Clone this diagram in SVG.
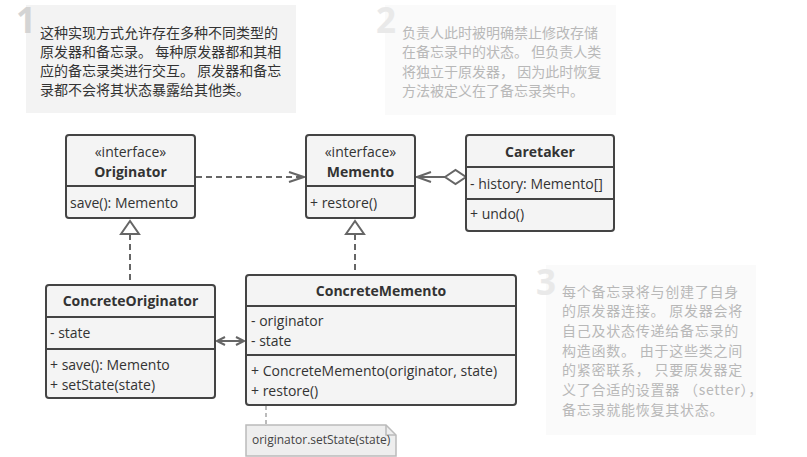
<svg xmlns="http://www.w3.org/2000/svg" width="807" height="457" viewBox="0 0 807 457">
<defs>
<style>
.bg{fill:#ffffff}
.note1{fill:#f3f3f3}
.note2{fill:#fafafa}
.num{font-family:"Open Sans","Liberation Sans",sans-serif;font-weight:bold;font-size:35px}
.n1{fill:#d4d4d4}
.n2{fill:#e9e9e9}
.cn{font-family:"Noto Sans CJK SC","Noto Sans",sans-serif;font-size:14px}
.wide{letter-spacing:0.75px}
.c1{fill:#333333}
.c2{fill:#b8b8b8}
.box{fill:#f4f4f4;stroke:#444444;stroke-width:2}
.div{stroke:#444444;stroke-width:2}
.t{font-family:"Open Sans","Liberation Sans",sans-serif;font-size:14px;fill:#333333}
.tb{font-family:"Open Sans","Liberation Sans",sans-serif;font-size:14px;font-weight:bold;fill:#333333}
.mid{text-anchor:middle}
.con{fill:none;stroke:#666666;stroke-width:2}
.dash{stroke-dasharray:6,4}
.head{fill:none;stroke:#666666;stroke-width:2}
.tri{fill:#ffffff;stroke:#666666;stroke-width:2}
.notebox{fill:#eeeeee;stroke:#bbbbbb;stroke-width:1.5}
.nt{font-family:"Open Sans","Liberation Sans",sans-serif;font-size:12px;fill:#444444}
</style>
</defs>
<rect class="bg" x="0" y="0" width="807" height="457"/>

<g id="note-1">
<rect class="note1" x="26" y="5" width="270" height="108"/>
<text class="num n1" x="16" y="33">1</text>
<text class="cn c1" x="40"><tspan x="40" y="37.5">这种实现方式允许存在多种不同类型的</tspan><tspan x="40" y="56.5">原发器和备忘录。 每种原发器都和其相</tspan><tspan x="40" y="75.5">应的备忘录类进行交互。 原发器和备忘</tspan><tspan x="40" y="94.5">录都不会将其状态暴露给其他类。</tspan></text>
</g>

<g id="note-2">
<rect class="note2" x="385" y="5" width="231" height="110"/>
<text class="num n2" x="376" y="33">2</text>
<text class="cn c2" x="402"><tspan x="402" y="37.5">负责人此时被明确禁止修改存储</tspan><tspan x="402" y="57">在备忘录中的状态。 但负责人类</tspan><tspan x="402" y="76.5">将独立于原发器， 因为此时恢复</tspan><tspan x="402" y="96">方法被定义在了备忘录类中。</tspan></text>
</g>

<g id="note-3">
<rect class="note2" x="546" y="265" width="210" height="170"/>
<text class="num n2" x="536" y="295">3</text>
<text class="cn c2 wide" x="562"><tspan x="562" y="296.5">每个备忘录将与创建了自身</tspan><tspan x="562" y="316.2">的原发器连接。 原发器会将</tspan><tspan x="562" y="335.9">自己及状态传递给备忘录的</tspan><tspan x="562" y="355.6">构造函数。 由于这些类之间</tspan><tspan x="562" y="375.3">的紧密联系， 只要原发器定</tspan><tspan x="562" y="395">义了合适的设置器 （setter），</tspan><tspan x="562" y="414.7">备忘录就能恢复其状态。</tspan></text>
</g>

<g id="connectors">
<line class="con dash" x1="196" y1="177" x2="303" y2="177"/>
<polyline class="head" points="289,172 304,177 289,182"/>
<line class="con" x1="416" y1="177" x2="445" y2="177"/>
<polyline class="head" points="431,172 417,177 431,182"/>
<polygon class="tri" points="445,177 455.5,170 466,177 455.5,184"/>
<line class="con dash" x1="130" y1="234" x2="130" y2="284"/>
<polygon class="tri" points="130,221 121,234 139,234"/>
<line class="con dash" x1="355" y1="234" x2="355" y2="274"/>
<polygon class="tri" points="355,221 346,234 364,234"/>
<line class="con" x1="217" y1="341" x2="244" y2="341"/>
<polyline class="head" points="225,337 217,341 225,345"/>
<polyline class="head" points="236,337 244,341 236,345"/>
<line stroke="#bbbbbb" stroke-width="2" stroke-dasharray="4,3" x1="266" y1="406" x2="266" y2="424"/>
</g>

<g id="originator">
<rect class="box" x="66" y="135" width="129" height="83" rx="3"/>
<line class="div" x1="66" y1="186" x2="195" y2="186"/>
<text class="t mid" x="130.5" y="157">«interface»</text>
<text class="tb mid" x="130.5" y="177">Originator</text>
<text class="t" x="70" y="208">save(): Memento</text>
</g>

<g id="memento">
<rect class="box" x="306" y="135" width="109" height="83" rx="3"/>
<line class="div" x1="306" y1="186" x2="415" y2="186"/>
<text class="t mid" x="360.5" y="157">«interface»</text>
<text class="tb mid" x="360.5" y="177">Memento</text>
<text class="t" x="310" y="208">+ restore()</text>
</g>

<g id="caretaker">
<rect class="box" x="466" y="135" width="148" height="96" rx="3"/>
<line class="div" x1="466" y1="167" x2="614" y2="167"/>
<line class="div" x1="466" y1="199" x2="614" y2="199"/>
<text class="tb mid" x="540" y="157">Caretaker</text>
<text class="t" x="470" y="189">- history: Memento[]</text>
<text class="t" x="470" y="219">+ undo()</text>
</g>

<g id="concrete-originator">
<rect class="box" x="46" y="285" width="169" height="113" rx="3"/>
<line class="div" x1="46" y1="317" x2="215" y2="317"/>
<line class="div" x1="46" y1="349" x2="215" y2="349"/>
<text class="tb mid" x="130.5" y="306">ConcreteOriginator</text>
<text class="t" x="50" y="338">- state</text>
<text class="t" x="50" y="370">+ save(): Memento</text>
<text class="t" x="50" y="390">+ setState(state)</text>
</g>

<g id="concrete-memento">
<rect class="box" x="246" y="275" width="270" height="130" rx="3"/>
<line class="div" x1="246" y1="306" x2="516" y2="306"/>
<line class="div" x1="246" y1="355" x2="516" y2="355"/>
<text class="tb mid" x="381" y="296">ConcreteMemento</text>
<text class="t" x="251" y="326">- originator</text>
<text class="t" x="251" y="346">- state</text>
<text class="t" x="251" y="376">+ ConcreteMemento(originator, state)</text>
<text class="t" x="251" y="396">+ restore()</text>
</g>

<g id="code-note">
<path class="notebox" d="M246,425 H386 L396,435 V456 H246 Z"/>
<path d="M386,425 V435 H396" fill="none" stroke="#bbbbbb" stroke-width="1.5"/>
<text class="nt" x="252" y="444">originator.setState(state)</text>
</g>
</svg>
